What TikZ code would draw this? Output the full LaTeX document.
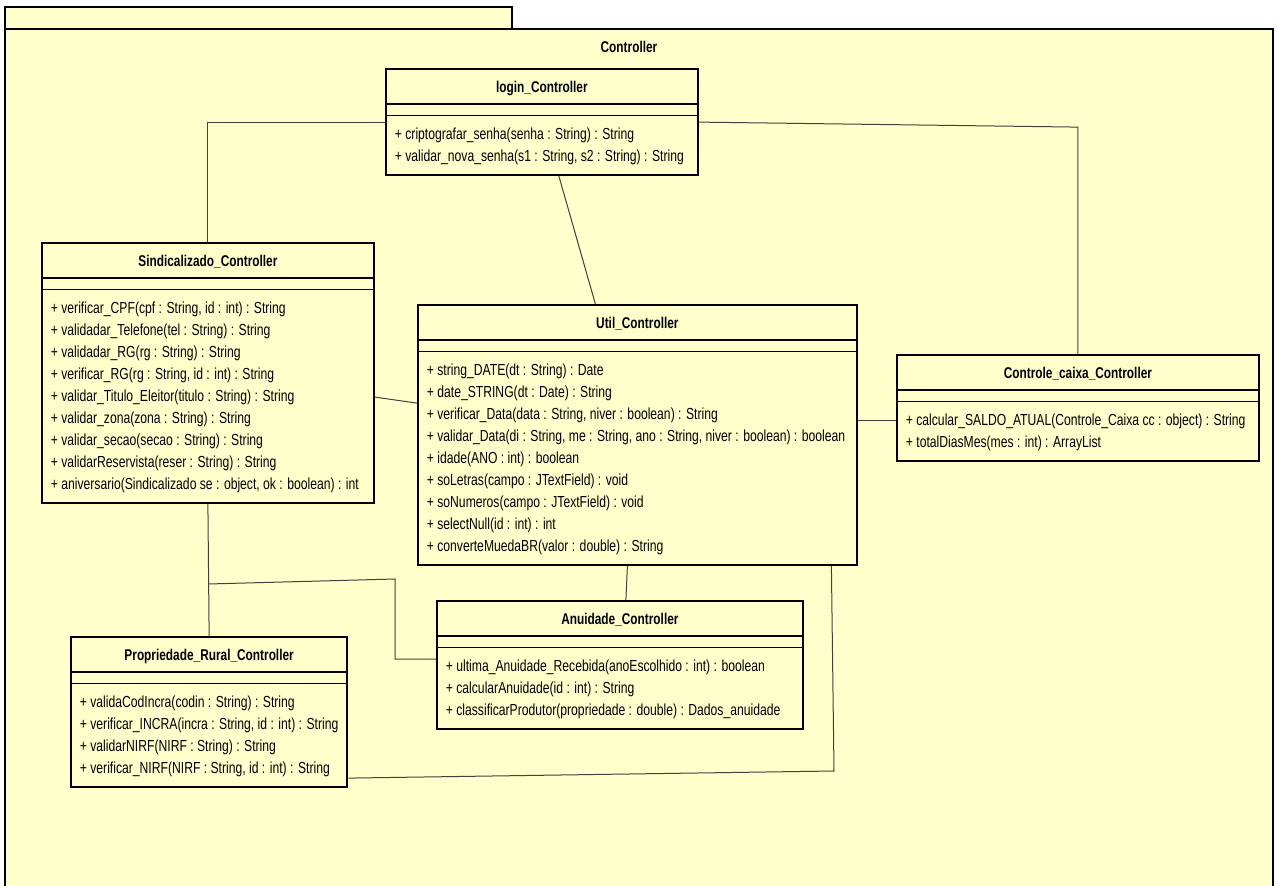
\documentclass[tikz,border=0pt]{standalone}
\usepackage{fontspec}
\setmainfont{Liberation Sans}[FakeStretch=0.76]
\usetikzlibrary{shapes.multipart,calc}
\usepackage{xcolor}
\definecolor{umlfill}{HTML}{FFFFCC}
\newcommand{\cname}[1]{\rule[-10pt]{0pt}{33pt}{\fontsize{15.6}{22}\selectfont\bfseries #1}}
\newcommand{\ops}[1]{\begin{tabular}{@{}l@{}}\rule{0pt}{23pt}#1\rule[-13pt]{0pt}{13pt}\end{tabular}}

\begin{document}
\begin{tikzpicture}[x=1pt, y=-1pt,
  umlclass/.style={rectangle split, rectangle split parts=3, draw, fill=umlfill, line width=1.8pt,
    anchor=north west, inner xsep=9pt, inner ysep=0pt, minimum width=#1,
    rectangle split part align={center,left,left}, font=\fontsize{16}{22}\selectfont},
  link/.style={draw=black!75, line width=1pt}]
  \clip (0,0) rectangle (1278,886);
  \useasboundingbox (0,0) rectangle (1278,886);
  % package
  \draw[fill=umlfill, line width=2.4pt] (5,7) rectangle (512,29);
  \draw[fill=umlfill, line width=2.4pt] (5,29) rectangle (1273,900);
  \node[font=\fontsize{15.6}{17}\selectfont\bfseries] (pkg) at (629,47) {Controller};

  \node[umlclass=312pt] (login) at (385,68) {
  \nodepart{one}\cname{login\_Controller}
  \nodepart{two}\rule{0pt}{10pt}
  \nodepart{three}\ops{+ criptografar\_senha(senha : String) : String\\
  + validar\_nova\_senha(s1 : String, s2 : String) : String}
  };
  \node[umlclass=332pt] (sind) at (41,242) {
  \nodepart{one}\cname{Sindicalizado\_Controller}
  \nodepart{two}\rule{0pt}{10pt}
  \nodepart{three}\ops{+ verificar\_CPF(cpf : String, id : int) : String\\
  + validadar\_Telefone(tel : String) : String\\
  + validadar\_RG(rg : String) : String\\
  + verificar\_RG(rg : String, id : int) : String\\
  + validar\_Titulo\_Eleitor(titulo : String) : String\\
  + validar\_zona(zona : String) : String\\
  + validar\_secao(secao : String) : String\\
  + validarReservista(reser : String) : String\\
  + aniversario(Sindicalizado se : object, ok : boolean) : int}
  };
  \node[umlclass=439pt] (util) at (417,304) {
  \nodepart{one}\cname{Util\_Controller}
  \nodepart{two}\rule{0pt}{10pt}
  \nodepart{three}\ops{+ string\_DATE(dt : String) : Date\\
  + date\_STRING(dt : Date) : String\\
  + verificar\_Data(data : String, niver : boolean) : String\\
  + validar\_Data(di : String, me : String, ano : String, niver : boolean) : boolean\\
  + idade(ANO : int) : boolean\\
  + soLetras(campo : JTextField) : void\\
  + soNumeros(campo : JTextField) : void\\
  + selectNull(id : int) : int\\
  + converteMuedaBR(valor : double) : String}
  };
  \node[umlclass=362pt] (caixa) at (896,354) {
  \nodepart{one}\cname{Controle\_caixa\_Controller}
  \nodepart{two}\rule{0pt}{10pt}
  \nodepart{three}\ops{+ calcular\_SALDO\_ATUAL(Controle\_Caixa cc : object) : String\\
  + totalDiasMes(mes : int) : ArrayList}
  };
  \node[umlclass=366pt] (anuid) at (436,600) {
  \nodepart{one}\cname{Anuidade\_Controller}
  \nodepart{two}\rule{0pt}{10pt}
  \nodepart{three}\ops{+ ultima\_Anuidade\_Recebida(anoEscolhido : int) : boolean\\
  + calcularAnuidade(id : int) : String\\
  + classificarProdutor(propriedade : double) : Dados\_anuidade}
  };
  \node[umlclass=275pt] (prop) at (70,636) {
  \nodepart{one}\cname{Propriedade\_Rural\_Controller}
  \nodepart{two}\rule{0pt}{10pt}
  \nodepart{three}\ops{+ validaCodIncra(codin : String) : String\\
  + verificar\_INCRA(incra : String, id : int) : String\\
  + validarNIRF(NIRF : String) : String\\
  + verificar\_NIRF(NIRF : String, id : int) : String}
  };

  % associations
  \coordinate (forkA) at (395,579);
  \coordinate (forkB) at (395,659);
  \coordinate (turn) at (834,771);
  \draw[link] (login.west) -| (sind.north);
  \draw[link] ([xshift=17pt]login.south) -- ([xshift=-42pt]util.north);
  \draw[link] (login.east) -- ($(login.east -| caixa.north)+(0,5)$) -- (caixa.north);
  \draw[link] ([yshift=-24pt]sind.east) -- ([yshift=32pt]util.west);
  \draw[link] ([yshift=-12pt]caixa.west) -- ([yshift=-12pt]caixa.west -| util.east);
  \draw[link] (sind.south) -- (prop.north);
  \draw[link] (sind.south |- 0,584) -- (forkA) -- (forkB) -- ([yshift=6pt]anuid.west);
  \draw[link] ([xshift=-10pt]util.south) -- ([xshift=6pt]anuid.north);
  \draw[link] ([xshift=194pt]util.south) -- (turn) -- ([yshift=-66pt]prop.east);
\end{tikzpicture}
\end{document}
